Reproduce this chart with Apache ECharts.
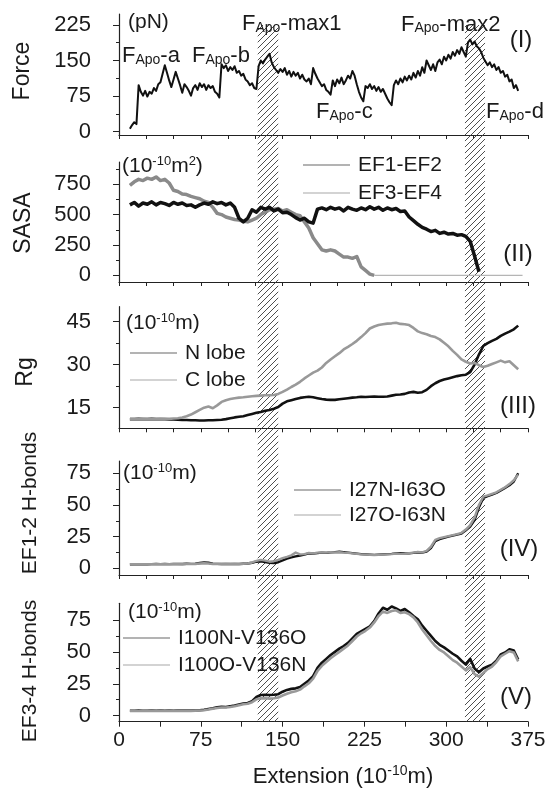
<!DOCTYPE html>
<html><head><meta charset="utf-8">
<script src="https://cdn.jsdelivr.net/npm/echarts@6/dist/echarts.min.js"></script>
<style>html,body{margin:0;padding:0;background:#fff}#c{width:552px;height:796px}</style>
</head><body><div id="c"></div>
<script>
// ---------- data ----------
const EXT_F = [10,12,14,16,18,20,22,24,26,28,30,32,34,36,38,40,42,44,46,48,50,52,54,56,58,60,62,64,66,68,70,72,74,76,78,80,82,84,86,88,90,92,94,96,98,100,102,104,106,108,110,112,114,116,118,120,122,124,126,128,130,132,134,136,138,140,142,144,146,148,150,152,154,156,158,160,162,164,166,168,170,172,174,176,178,180,182,184,186,188,190,192,194,196,198,200,202,204,206,208,210,212,214,216,218,220,222,224,226,228,230,232,234,236,238,240,242,244,246,248,250,252,254,256,258,260,262,264,266,268,270,272,274,276,278,280,282,284,286,288,290,292,294,296,298,300,302,304,306,308,310,312,314,316,318,320,322,324,326,328,330,332,334,336,338,340,342,344,346,348,350,352,354,356,358,360,362,364,366];
const FORCE = [6,14,20,16,98,84,76,86,74,84,
 80,92,86,100,104,122,140,124,108,94,
 110,126,112,98,82,100,94,86,76,92,
 98,88,102,94,100,88,98,92,96,84,
 80,72,142,134,140,128,136,130,138,124,
 128,118,122,110,106,98,102,92,90,138,
 150,144,152,158,164,146,136,130,124,132,
 126,134,120,128,116,126,118,124,112,120,
 110,106,112,100,134,122,112,104,96,100,
 88,84,78,108,96,110,102,114,100,108,
 118,112,128,118,100,84,72,64,96,92,
 100,90,96,86,94,84,90,80,70,62,
 56,98,108,100,112,104,116,108,118,110,
 124,114,128,118,136,124,150,140,130,142,
 128,146,152,142,158,150,162,154,168,160,
 172,164,178,168,158,188,194,184,190,180,
 176,168,156,148,140,146,136,142,130,136,
 124,128,116,120,106,110,92,98,86];

const EXT = [10,14,18,22,26,30,34,38,42,46,50,54,58,62,66,70,74,78,82,86,90,94,98,102,106,110,114,118,122,126,130,134,138,142,146,150,154,158,162,166,170,174,178,182,186,190,194,198,202,206,210,214,218,222,226,230,234,238,242,246,250,254,258,262,266,270,274,278,282,286,290,294,298,302,306,310,314,318,322,326,330,334,338,342,346,350,354,358,362,366,370];

const SASA_EF12 = [580,600,570,595,585,605,580,600,590,575,
 600,585,595,575,580,560,580,595,585,605,
 590,600,580,595,560,470,440,470,540,520,
 560,545,560,530,545,515,520,500,475,455,
 470,440,430,545,555,540,560,545,555,530,
 560,545,535,555,540,565,545,560,535,555,
 540,550,525,530,480,450,420,395,380,360,
 370,345,355,340,345,330,335,320,280,160,
 30];
const SASA_EF34 = [740,770,790,780,800,790,810,780,790,760,
 700,690,670,665,650,640,630,610,600,560,
 510,500,480,470,460,455,445,440,455,470,
 500,520,540,545,550,530,540,520,500,490,
 440,390,310,260,210,200,210,200,175,150,
 150,140,155,70,40,10,0,0,0,0,
 0,0,0,0,0,0,0,0,0,0,
 0,0,0,0,0,0,0,0,0,0,
 0,0,0,0,0,0,0,0,0,0,
 0];
const RG_N = [11,11,11.1,11,11,11.1,11,11,11,10.9,
 10.9,10.8,10.7,10.7,10.6,10.6,10.5,10.5,10.6,10.6,
 10.7,10.8,11,11.3,11.6,11.8,12,12.4,12.8,13.2,
 13.5,13.9,14.2,14.6,15.2,16.4,17.2,17.6,18,18.4,
 18.6,18.8,18.6,18.3,18,17.8,17.7,17.7,17.9,18.1,
 18.3,18.5,18.6,18.8,18.7,18.8,18.9,18.8,18.8,18.9,
 19.2,19.5,19.6,19.8,20.3,20.5,20.2,20.4,21.2,22.5,
 23.5,24.3,24.8,25.2,25.6,26,26.3,26.5,27.4,30,
 33.5,36.5,37.5,38.3,39,40,40.8,41.5,42.3,43.6];
const RG_C = [11,11,11,11.1,11,11,11,11.1,11,11.1,
 11.2,11.3,11.6,12,12.6,13.4,14.2,15,15.4,14.8,
 15.8,17,17.6,18,18.3,18.5,18.6,18.8,19,19.1,
 19.2,19.3,19.3,19.4,19.8,20.5,21.3,22.2,23,24,
 25.2,26.2,27.2,27.9,29,30.6,31.8,32.9,34,35.3,
 36.2,37.2,38.3,39.6,41,42.6,43.3,43.8,44.1,44.3,
 44.4,44.6,44.2,44.1,43.8,42.8,41.6,41,40.6,40,
 39.6,38.8,37.6,36.4,34.8,33.4,31.8,31,30.4,30.6,
 29.8,29.2,29.6,30.2,30.8,31.4,30.8,31.2,29.8,28.4];
const HB12_A = [3.2,3.3,3.2,3.3,3.2,3.3,3.4,3.3,3.4,3.3,
 3.4,3.5,3.4,3.6,3.5,3.6,4.2,4.6,4.4,3.6,
 3.5,3.4,3.5,3.4,3.5,3.4,3.6,3.8,4.4,5.2,
 5.6,5,4.4,4.2,4.8,6.2,7.6,8.6,9.4,10,
 10.8,11.8,11.6,12,12.4,12.2,12.6,12.8,13,12.8,
 12.4,12,11.6,11.2,11,10.8,10.6,10.8,11,11.2,
 11.4,11.8,12,11.8,11.8,12.2,12.6,12.4,13.2,16,
 21.5,23,24,25,25.8,26.6,27.4,30,33,38,
 48,55.5,57,58.2,59.5,61.5,63.5,65.5,68.5,75];
const HB12_B = [3.3,3.2,3.3,3.2,3.3,3.2,3.3,3.2,3.3,3.2,
 3.3,3.3,3.2,3.4,3.3,3.4,3.8,4,3.8,3.4,
 3.4,3.3,3.4,3.3,3.4,3.3,3.5,3.8,4.6,5.8,
 6.6,6,5.2,5.6,6.6,8,9,10.2,12.4,11,
 11.2,12.2,11.8,12.4,12.6,12.4,12.8,12.6,12.8,12.4,
 12.2,11.8,11.4,11,10.8,10.6,10.4,10.6,10.8,11,
 11.2,11.6,11.4,11.6,12,12.4,13,12.6,13.8,17,
 22.5,23.8,24.6,25.4,26.2,27,28,30.6,34,40,
 50,56.5,57.5,58.8,60,62,64,66.5,69.5,74];
const HB34_A = [3.9,3.9,4,3.9,3.9,4,3.9,4,3.9,4,
 3.9,4,4,4.1,4,4.2,4.3,4.6,5.2,5.8,
 6.6,7,6.8,7.4,8,8.8,9.6,10,11.4,14.6,
 16.2,16.4,16.2,16.4,16.8,18.8,20.2,21,21.4,22.4,
 25,27.6,31,37.5,41.5,44.5,47.5,50,52.5,54.5,
 57,60.5,64,66,68,70,74,80,84.5,83,
 85.5,84,82,83.5,81,78,75.5,70.5,66.5,62.5,
 58.5,55.5,53.5,51,48.5,46.5,43,40,44.5,37,
 34,37,38.5,40,43,48,49.5,52,51,44];
const HB34_B = [3.7,3.8,3.7,3.8,3.7,3.8,3.7,3.8,3.7,3.8,
 3.7,3.8,3.8,3.9,3.8,4,4.1,4.3,4.8,5.4,
 6,6.4,6.4,6.8,7.4,8.2,9,9.4,10.6,12.8,
 13.6,13.6,13.4,13.6,14.2,15.8,17.2,18.4,19.2,20.4,
 23,25.4,29,35,39,42,45,47.5,50,52.5,
 55,58.5,62,64.5,66.5,69,73,78,81.5,80.5,
 82,82.5,80.5,81,79.5,77,73,67.5,63,58.5,
 54.5,51.5,49.5,46.5,43.5,41.5,38.5,35.5,38,32.5,
 30.5,33.5,36.5,38.5,42,46.5,48.5,50.5,49.5,42.5];

const X_LABELS = [0,75,150,225,300,375];
const X_TICKS = [0,25,50,75,100,125,150,175,200,225,250,275,300,325,350,375];
const X_TICKS_V = [0,37.5,75,112.5,150,187.5,225,262.5,300,337.5,375];
const Y_TICKS = [[0,75,150,225],[0,250,500,750],[15,30,45],[0,25,50,75],[0,25,50,75]];
const Y_MINOR = [[37.5,112.5,187.5],[125,375,625,875],[22.5,37.5],[12.5,37.5,62.5],[12.5,37.5,62.5]];
const Y_RANGE = [[-7,248],[-55,933],[7.8,50.2],[-5.3,84.7],[-4.7,88]];
const HATCH = [[127.2,146],[317.2,335.6]];
const HATCH_TOP = 225;

// ---------- layout ----------
const FONT = '"Liberation Sans", Arial, Helvetica, sans-serif';
const TXT = '#1a1a1a';
const GRID_POS = [[14,121],[162,120],[306.7,121.6],[461,114],[603.3,118.4]];

const chart = echarts.init(document.getElementById('c'), null, {renderer:'canvas'});
function pts(xs, ys){ return ys.map((y,i)=>[xs[i], y]); }
function line(name, data, g, color, w, z){
  return {type:'line', name, xAxisIndex:g, yAxisIndex:g, data, showSymbol:false, symbol:'none', z:z||2,
    lineStyle:{color, width:w, join:'round'}, itemStyle:{color}, animation:false, silent:true};
}
const axisLineStyle = {color:'#222', width:1.2};

const grid = GRID_POS.map(p=>({left:119, right:24, top:p[0], height:p[1], containLabel:false, outerBoundsMode:'none'}));
const xAxis = GRID_POS.map((p,i)=>({
  type:'value', gridIndex:i, min:0, max:375,
  axisLine:{show:true, onZero:false, lineStyle:axisLineStyle},
  axisTick:{show:true, length:i===4?5:4, customValues:i===4?X_TICKS_V:X_TICKS, lineStyle:{color:'#222'}},
  axisLabel:{show:i===4, customValues:X_LABELS, fontSize:21, color:TXT, fontFamily:FONT, margin:8},
  splitLine:{show:false}
}));
const yAxis = [];
GRID_POS.forEach((p,i)=>{
  yAxis.push({type:'value', gridIndex:i, min:Y_RANGE[i][0], max:Y_RANGE[i][1], position:'left',
    axisLine:{show:true, onZero:false, lineStyle:axisLineStyle},
    axisTick:{show:true, length:6, customValues:Y_TICKS[i], lineStyle:{color:'#222'}},
    axisLabel:{customValues:Y_TICKS[i], fontSize:22, color:TXT, fontFamily:FONT, margin:28},
    splitLine:{show:false}});
});
GRID_POS.forEach((p,i)=>{
  yAxis.push({type:'value', gridIndex:i, min:Y_RANGE[i][0], max:Y_RANGE[i][1], position:'left',
    axisLine:{show:false},
    axisTick:{show:true, length:3, customValues:Y_MINOR[i], lineStyle:{color:'#222'}},
    axisLabel:{show:false}, splitLine:{show:false}});
});

// EF3-EF4 SASA: thick noisy part until it reaches zero, thin flat line after
const sasa34 = pts(EXT, SASA_EF34);
const zeroAt = SASA_EF34.indexOf(0);
const series = [
  line('Force', pts(EXT_F, FORCE), 0, '#111', 2),
  line('EF3-EF4', sasa34.slice(0, zeroAt+1), 1, '#8a8a8a', 3.5),
  line('EF3-EF4', sasa34.slice(zeroAt), 1, '#b5b5b5', 1.2),
  line('EF1-EF2', pts(EXT, SASA_EF12), 1, '#111', 3.5),
  line('N lobe', pts(EXT, RG_N), 2, '#111', 2.6),
  line('C lobe', pts(EXT, RG_C), 2, '#999', 2.6),
  line('I27N-I63O', pts(EXT, HB12_A), 3, '#111', 2.4),
  line('I27O-I63N', pts(EXT, HB12_B), 3, '#999', 2.4),
  line('I100N-V136O', pts(EXT, HB34_A), 4, '#111', 2.6),
  line('I100O-V136N', pts(EXT, HB34_B), 4, '#999', 2.6)
];

function leg(names, left, top, gap){
  return {data:[{name:names[0], itemStyle:{color:'#9a9a9a'}},{name:names[1], itemStyle:{color:'#c4c4c4'}}],
    left, top, orient:'vertical', icon:'rect', itemWidth:47, itemHeight:1.5, itemGap:gap, padding:0,
    selectedMode:false, textStyle:{fontSize:21, color:TXT, fontFamily:FONT, lineHeight:22, padding:[0,0,0,3]}};
}
const legend = [
  leg(['EF1-EF2','EF3-EF4'], 303, 154, 6),
  leg(['N lobe','C lobe'], 130, 342, 5),
  leg(['I27N-I63O','I27O-I63N'], 294, 479, 3),
  leg(['I100N-V136O','I100O-V136N'], 123, 627, 5)
];

chart.setOption({animation:false, backgroundColor:'#fff', grid, xAxis, yAxis, series, legend});

// ---------- hatch + texts ----------
function makeHatch(){
  const s = 6;
  const c = document.createElement('canvas'); c.width = s; c.height = s;
  const g = c.getContext('2d'); g.strokeStyle = '#3a3a3a'; g.lineWidth = 0.9;
  g.beginPath(); g.moveTo(0,s); g.lineTo(s,0); g.moveTo(-1,1); g.lineTo(1,-1); g.moveTo(s-1,s+1); g.lineTo(s+1,s-1); g.stroke();
  return c;
}
const hatchImg = makeHatch();
const elements = [];
HATCH.forEach((h,k)=>{
  const a = chart.convertToPixel({xAxisIndex:0, yAxisIndex:0}, [h[0], HATCH_TOP]);
  const b = chart.convertToPixel({xAxisIndex:4, yAxisIndex:4}, [h[1], Y_RANGE[4][0]]);
  elements.push({type:'rect', id:'hatch'+k, z:1, silent:true,
    shape:{x:a[0], y:a[1], width:b[0]-a[0], height:b[1]-a[1]},
    style:{fill:{image:hatchImg, repeat:'repeat'}, stroke:null}});
});
const richF = {b:{fontSize:22, fontFamily:FONT, fill:TXT, lineHeight:24, verticalAlign:'bottom'},
               s:{fontSize:14, fontFamily:FONT, fill:TXT, lineHeight:24, verticalAlign:'bottom'}};
const richU = {n:{fontSize:21, fontFamily:FONT, fill:TXT, lineHeight:22, verticalAlign:'bottom'},
               p:{fontSize:13, fontFamily:FONT, fill:TXT, lineHeight:22, verticalAlign:'top'}};
function txt(id, text, x, y, opts){
  opts = opts || {};
  return {type:'text', id, x, y, z:10, rotation:opts.rot||0, silent:true,
    style:{text, x:0, y:0, fill:TXT, fontSize:opts.size||21, fontFamily:FONT,
      align:opts.align||'left', verticalAlign:'middle', textAlign:opts.align||'left', textVerticalAlign:'middle',
      rich:opts.rich}};
}
// force annotations
[['fa','-a',122,55],['fb','-b',192,55],['fm1','-max1',242,23],['fc','-c',316,111],['fm2','-max2',401,23.5],['fd','-d',486,111]]
 .forEach(t=>elements.push(txt(t[0], '{b|F}{s|Apo}{b|'+t[1]+'}', t[2], t[3], {rich:richF})));
// units
elements.push(txt('u1','(pN)',128,22,{size:21}));
elements.push(txt('u2','{n|(10}{p|-10}{n|m}{p|2}{n|)}',122,166,{rich:richU}));
elements.push(txt('u3','{n|(10}{p|-10}{n|m)}',126,323,{rich:richU}));
elements.push(txt('u4','{n|(10}{p|-10}{n|m)}',123,473,{rich:richU}));
elements.push(txt('u5','{n|(10}{p|-10}{n|m)}',128,612,{rich:richU}));
// panel numerals
[['r1','(I)',521,40],['r2','(II)',518,254],['r3','(III)',518,406],['r4','(IV)',519,549],['r5','(V)',516,697]]
 .forEach(t=>elements.push(txt(t[0], t[1], t[2], t[3], {size:24, align:'center'})));
// axis names
[['n1','Force',23,71,23],['n2','SASA',24,223,23],['n3','Rg',26,372,23],['n4','EF1-2 H-bonds',30,503,21],['n5','EF3-4 H-bonds',30,671,21]]
 .forEach(t=>elements.push(txt(t[0], t[1], t[2], t[3], {size:t[4], align:'center', rot:Math.PI/2})));
const richX = {n:{fontSize:22, fontFamily:FONT, fill:TXT, lineHeight:24, verticalAlign:'bottom'},
               p:{fontSize:14, fontFamily:FONT, fill:TXT, lineHeight:24, verticalAlign:'top'}};
elements.push(txt('xt','{n|Extension (10}{p|-10}{n|m)}',343,776,{rich:richX, align:'center'}));

chart.setOption({graphic:{elements}});
</script></body></html>
